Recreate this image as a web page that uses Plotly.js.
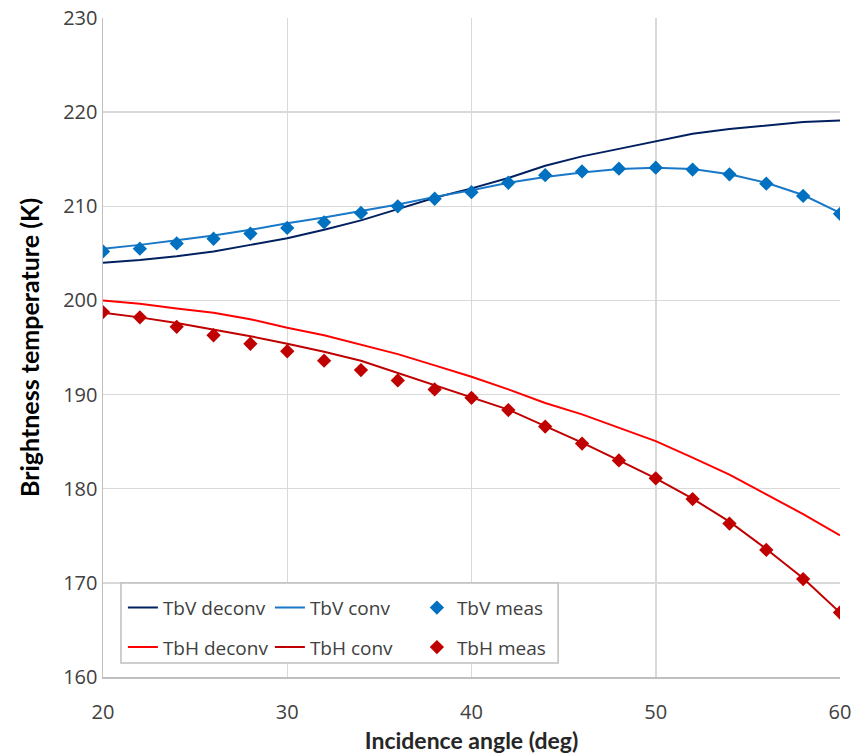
<!DOCTYPE html>
<html><head><meta charset="utf-8">
<script src="https://cdn.plot.ly/plotly-3.0.1.min.js"></script>
<style>html,body{margin:0;padding:0;background:#fff}</style>
</head><body><div id="chart" style="width:854px;height:756px"></div>
<script>
const angle = [20,22,24,26,28,30,32,34,36,38,40,42,44,46,48,50,52,54,56,58,60];
const tbvDeconv = [204.0,204.3,204.7,205.2,205.9,206.6,207.5,208.5,209.7,210.9,211.9,213.0,214.3,215.3,216.1,216.9,217.7,218.2,218.6,218.95,219.1];
const tbvConv   = [205.5,205.9,206.4,206.9,207.5,208.2,208.8,209.5,210.2,211.0,211.7,212.5,213.1,213.6,213.95,214.1,213.95,213.4,212.5,211.2,209.3];
const tbvMeas   = [205.2,205.5,206.05,206.55,207.1,207.7,208.3,209.3,210.0,210.8,211.5,212.5,213.3,213.7,214.0,214.1,213.9,213.4,212.4,211.1,209.2];
const tbhDeconv = [200.0,199.65,199.15,198.7,198.0,197.1,196.3,195.3,194.3,193.1,191.9,190.55,189.1,187.9,186.5,185.06,183.3,181.5,179.4,177.3,175.05];
const tbhConv   = [198.7,198.2,197.6,196.9,196.2,195.4,194.55,193.6,192.3,191.0,189.75,188.4,186.65,184.9,183.0,181.1,178.95,176.5,173.6,170.5,166.85];
const tbhMeas   = [198.76,198.2,197.2,196.3,195.4,194.6,193.6,192.6,191.5,190.55,189.65,188.35,186.6,184.8,183.0,181.1,178.9,176.3,173.5,170.4,166.85];

const lg = {color:'#404040', size:19, family:'Open Sans, sans-serif'};
const traces = [
  {x:angle,y:tbvDeconv,name:'TbV deconv',mode:'lines',line:{color:'#002060',width:2},legend:'legend'},
  {x:angle,y:tbvConv,name:'TbV conv',mode:'lines',line:{color:'#1a78c8',width:2},legend:'legend'},
  {x:angle,y:tbvMeas,name:'TbV meas',mode:'markers',marker:{symbol:'diamond',color:'#0070C0',size:11},legend:'legend'},
  {x:angle,y:tbhDeconv,name:'TbH deconv',mode:'lines',line:{color:'#FF0000',width:2},legend:'legend2'},
  {x:angle,y:tbhConv,name:'TbH conv',mode:'lines',line:{color:'#C00000',width:2},legend:'legend2'},
  {x:angle,y:tbhMeas,name:'TbH meas',mode:'markers',marker:{symbol:'diamond',color:'#C00000',size:11},legend:'legend2'}
];
const legBase = {orientation:'h', x:0.027, xanchor:'left', yanchor:'top', font:lg,
  entrywidth:102, entrywidthmode:'pixels', itemwidth:30, bgcolor:'rgba(0,0,0,0)', traceorder:'normal'};
const layout = {
  width:854, height:756,
  margin:{l:103, r:14, t:18, b:79},
  paper_bgcolor:'#fff', plot_bgcolor:'#fff',
  showlegend:true,
  xaxis:{range:[20,60], dtick:10, tick0:20, showgrid:true, gridcolor:'#d9d9d9', gridwidth:1.5,
    zeroline:false, showline:true, linecolor:'#bfbfbf', linewidth:1.5, ticks:'', ticklen:0,
    ticklabelstandoff:16,
    tickfont:{color:'#404040', size:20, family:'Open Sans, sans-serif'},
    title:{text:'<b>Incidence angle (deg)</b>', font:{color:'#262626', size:23, family:'Lato, sans-serif'}, standoff:9}},
  yaxis:{range:[160,230], dtick:10, tick0:160, showgrid:true, gridcolor:'#d9d9d9', gridwidth:1.5,
    zeroline:false, showline:true, linecolor:'#bfbfbf', linewidth:1.5, ticks:'',
    tickfont:{color:'#404040', size:20, family:'Open Sans, sans-serif'},
    title:{text:'<b>Brightness temperature (K)</b>', font:{color:'#000', size:25, family:'Lato, sans-serif'}, standoff:16}},
  legend:Object.assign({}, legBase, {y:0.134}),
  legend2:Object.assign({}, legBase, {y:0.074}),
  shapes:[{type:'rect', xref:'paper', yref:'paper', x0:0.0244, x1:0.6175, y0:0.0212, y1:0.1426,
    line:{color:'#bfbfbf', width:1.5}, fillcolor:'#fff', layer:'above'}]
};
Plotly.newPlot('chart', traces, layout, {displayModeBar:false, staticPlot:true});
</script></body></html>
